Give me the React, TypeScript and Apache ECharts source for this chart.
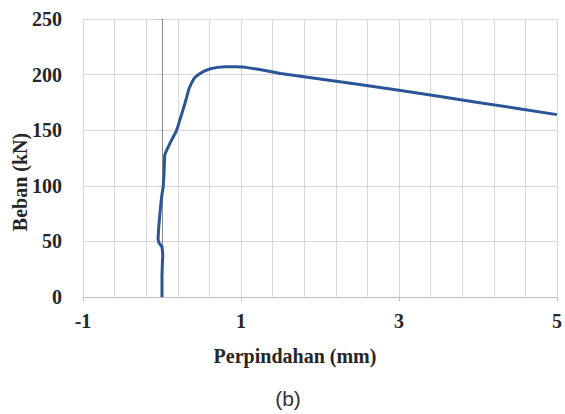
import React, { useEffect, useRef } from "react";
import * as echarts from "echarts";

// Displacement (mm) and load (kN)
const dispX = [
  0, 0.0, 0.005, 0.01, 0.0, -0.04, -0.05, -0.045, -0.04, -0.03, -0.02, -0.005, 0.015, 0.025, 0.03, 0.035,
  0.06, 0.12, 0.18, 0.2, 0.225, 0.26, 0.29, 0.31, 0.34, 0.37, 0.41, 0.46, 0.53, 0.6, 0.7, 0.8, 0.94,
  1.06, 1.2, 1.32, 1.5, 2.0, 2.5, 3.0, 3.5, 4.0, 4.5, 5.0,
];
const loadY = [
  0, 20, 30, 38, 45, 49, 52, 58, 64, 72, 80, 90, 99, 110, 120, 128,
  132, 141, 149, 153, 159, 167, 174, 179, 187, 192, 197, 200, 203, 205, 206.5, 207, 207,
  206.5, 205, 203.5, 201, 196, 191, 186, 180.5, 175, 169.5, 164,
];

// Gridline positions along x (every 0.4 mm); labels shown every 5th
const xGridTicks = ["-1", "-0.6", "-0.2", "0.2", "0.6", "1", "1.4", "1.8", "2.2", "2.6", "3", "3.4", "3.8", "4.2", "4.6", "5"];
const xLabelEvery = 5;

const xName = "Perpindahan (mm)";
const yName = "Beban (kN)";
const caption = "(b)";

const SERIF = "Liberation Serif";

export default function App() {
  const ref = useRef<HTMLDivElement>(null);

  useEffect(() => {
    if (!ref.current) return;
    const chart = echarts.init(ref.current, undefined, { renderer: "svg" });
    const points = dispX.map((x, i) => [x, loadY[i]]);
    const showIdx = (i: number) => i % xLabelEvery === 0;

    chart.setOption({
      animation: false,
      backgroundColor: "#ffffff",
      textStyle: { fontFamily: SERIF },
      grid: { left: 83, right: 7, top: 19, bottom: 117, containLabel: false },
      xAxis: [
        {
          type: "category",
          data: xGridTicks,
          boundaryGap: false,
          position: "bottom",
          axisLine: { show: true, lineStyle: { color: "#bfbfbf", width: 1 } },
          axisTick: { show: true, interval: showIdx, length: 4, lineStyle: { color: "#bfbfbf" } },
          axisLabel: {
            show: true,
            interval: showIdx,
            margin: 14,
            fontFamily: SERIF,
            fontSize: 20,
            fontWeight: "bold",
            color: "#262626",
          },
          splitLine: { show: true, interval: 0, lineStyle: { color: "#d9d9d9", width: 1 } },
        },
        {
          type: "value",
          min: -1,
          max: 5,
          show: false,
          position: "bottom",
          splitLine: { show: false },
        },
      ],
      yAxis: {
        type: "value",
        min: 0,
        max: 250,
        interval: 50,
        axisLine: { show: true, lineStyle: { color: "#bfbfbf", width: 1 } },
        axisTick: { show: true, length: 4, lineStyle: { color: "#bfbfbf" } },
        axisLabel: {
          margin: 21,
          fontFamily: SERIF,
          fontSize: 20,
          fontWeight: "bold",
          color: "#262626",
        },
        splitLine: { show: true, lineStyle: { color: "#d9d9d9", width: 1 } },
      },
      series: [
        {
          type: "line",
          xAxisIndex: 1,
          data: [],
          silent: true,
          z: 1,
          markLine: {
            silent: true,
            symbol: ["none", "none"],
            label: { show: false },
            lineStyle: { color: "#8c8c8c", width: 1, type: "solid" },
            data: [{ xAxis: 0 }],
          },
        },
        {
          type: "line",
          xAxisIndex: 1,
          data: points,
          showSymbol: false,
          symbol: "none",
          smooth: false,
          z: 5,
          lineStyle: { color: "#2b5597", width: 3 },
        },
      ],
      graphic: [
        {
          type: "text",
          x: 295,
          y: 356,
          style: {
            text: xName,
            fontFamily: SERIF,
            fontSize: 20,
            fontWeight: "bold",
            fill: "#262626",
            align: "center",
            verticalAlign: "middle",
          },
        },
        {
          type: "text",
          x: 20,
          y: 182,
          rotation: Math.PI / 2,
          style: {
            text: yName,
            fontFamily: SERIF,
            fontSize: 20,
            fontWeight: "bold",
            fill: "#262626",
            align: "center",
            verticalAlign: "middle",
          },
        },
        {
          type: "text",
          x: 288,
          y: 398,
          style: {
            text: caption,
            fontFamily: "Liberation Sans",
            fontSize: 21,
            fill: "#333333",
            align: "center",
            verticalAlign: "middle",
          },
        },
      ],
    });

    return () => chart.dispose();
  }, []);

  return (
    <div
      ref={ref}
      style={{ position: "fixed", left: 0, top: 0, width: 565, height: 414, background: "#fff" }}
    />
  );
}
